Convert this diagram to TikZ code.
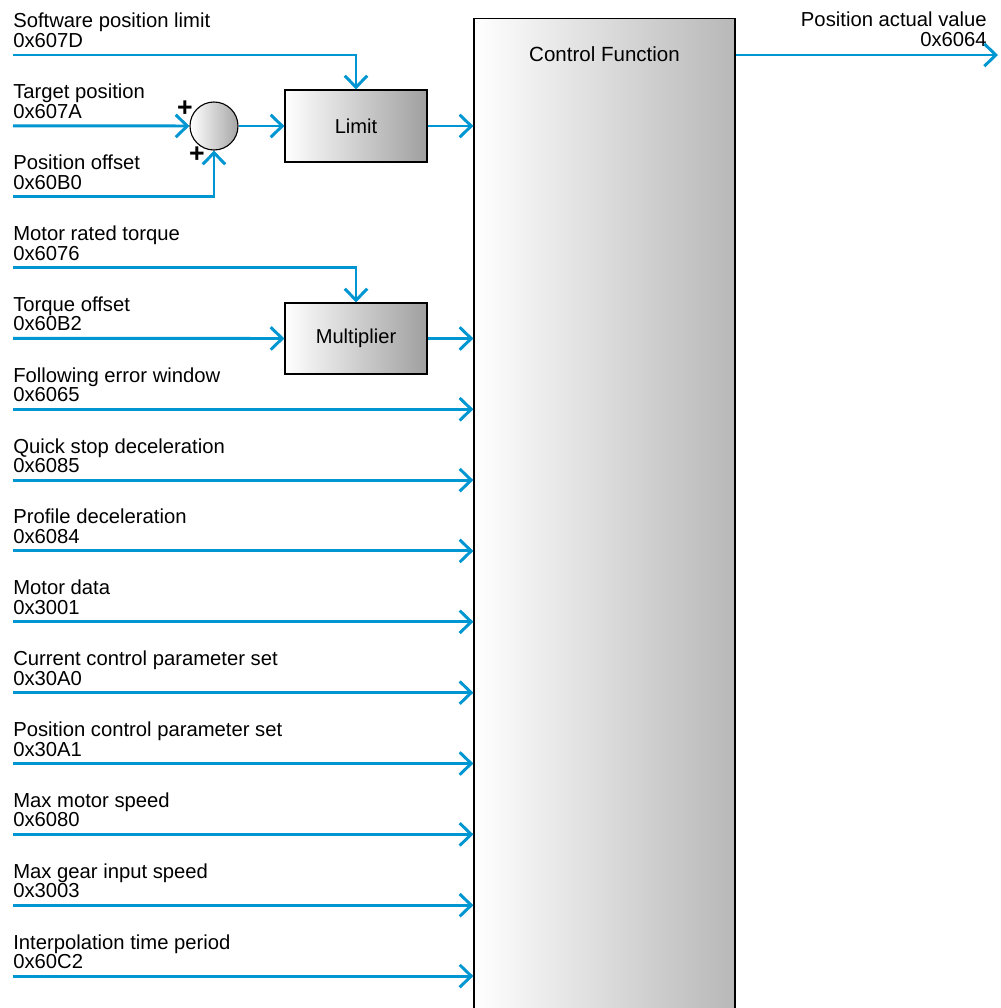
\documentclass[tikz,border=0pt]{standalone}
\usepackage{fontspec}
\setmainfont{Liberation Sans}
\usepackage{xcolor}
\usetikzlibrary{arrows.meta, positioning, shapes}

\definecolor{sigblue}{RGB}{0,150,210}

\tikzset{
	sig/.style={line width=2.1pt, sigblue, -{Straight Barb[length=0.29cm, width=0.56cm]}},
	lbl/.style={anchor=south west, inner sep=0pt, align=left, font=\fontsize{14.4}{13.9}\selectfont},
	fbox/.style={draw, line width=0.8pt, left color=white, right color=gray!75, minimum width=3.55cm, minimum height=1.8cm, font=\fontsize{14.3}{14}\selectfont},
	sumnode/.style={circle, draw, line width=0.8pt, left color=white, right color=gray!70, minimum size=1.2cm, inner sep=0pt},
	plus/.style={font=\fontsize{19}{19}\selectfont\bfseries, inner sep=0pt}
}

\begin{document}
\begin{tikzpicture}[x=0.025cm, y=-0.025cm]
			\useasboundingbox (0,0) rectangle (1001,1008);
			
			% control box
			\node[draw, line width=0.8pt, left color=white, right color=gray!56, minimum width=6.525cm, minimum height=25.3cm, inner sep=0pt] (ctrl) at (604.5,525) {};
			\node[font=\fontsize{14.6}{14}\selectfont] (ctrltxt) at (604.5,54) {Control Function};
			
			% sum, limit, multiplier
			\node[sumnode] (sum) at (214,126) {};
			\node[fbox] (lim) at (356,126) {Limit};
			\node[fbox, minimum height=1.775cm] (mul) at (356,338.5) {Multiplier};
			\node[plus] (p1) at (185,109) {+};
			\node[plus] (p2) at (197,155) {+};
			
			% line starts
			\coordinate (spl) at (13,55);
			\coordinate (tp) at (13,125.85);
			\coordinate (po) at (13,196.7);
			\coordinate (mrt) at (13,267.55);
			\coordinate (tqo) at (13,338.4);
			\coordinate (few) at (13,409.25);
			\coordinate (qsd) at (13,480.1);
			\coordinate (pd) at (13,550.95);
			\coordinate (md) at (13,621.8);
			\coordinate (ccp) at (13,692.65);
			\coordinate (pcp) at (13,763.5);
			\coordinate (mms) at (13,834.35);
			\coordinate (mgs) at (13,905.2);
			\coordinate (itp) at (13,976.05);
			\coordinate (pav) at (998,55);
			
			% labels
			\node[lbl] (spltxt) at (13,48) {Software position limit\\0x607D};
			\node[lbl] (tptxt) at (13,118.85) {Target position\\0x607A};
			\node[lbl] (potxt) at (13,189.7) {Position offset\\0x60B0};
			\node[lbl] (mrttxt) at (13,260.55) {Motor rated torque\\0x6076};
			\node[lbl] (tqotxt) at (13,331.4) {Torque offset\\0x60B2};
			\node[lbl] (fewtxt) at (13,402.25) {Following error window\\0x6065};
			\node[lbl] (qsdtxt) at (13,473.1) {Quick stop deceleration\\0x6085};
			\node[lbl] (pdtxt) at (13,543.95) {Profile deceleration\\0x6084};
			\node[lbl] (mdtxt) at (13,614.8) {Motor data\\0x3001};
			\node[lbl] (ccptxt) at (13,685.65) {Current control parameter set\\0x30A0};
			\node[lbl] (pcptxt) at (13,756.5) {Position control parameter set\\0x30A1};
			\node[lbl] (mmstxt) at (13,827.35) {Max motor speed\\0x6080};
			\node[lbl] (mgstxt) at (13,898.2) {Max gear input speed\\0x3003};
			\node[lbl] (itptxt) at (13,969.05) {Interpolation time period\\0x60C2};
			\node[lbl, anchor=south east, align=right] (pavtxt) at (987,47) {Position actual value\\0x6064};
			
			% position path
			\draw[sig] (spl) -| (lim);
			\draw[sig] (tp) -- (sum);
			\draw[sig] (po) -| (sum);
			\draw[sig] (sum) -- (lim);
			\draw[sig] (lim) -- (lim -| ctrl.west);
			
			% torque path
			\draw[sig] (mrt) -| (mul);
			\draw[sig] (tqo) -- (mul);
			\draw[sig] (mul) -- (mul -| ctrl.west);
			
			% direct inputs
			\draw[sig] (few) -- (few -| ctrl.west);
			\draw[sig] (qsd) -- (qsd -| ctrl.west);
			\draw[sig] (pd) -- (pd -| ctrl.west);
			\draw[sig] (md) -- (md -| ctrl.west);
			\draw[sig] (ccp) -- (ccp -| ctrl.west);
			\draw[sig] (pcp) -- (pcp -| ctrl.west);
			\draw[sig] (mms) -- (mms -| ctrl.west);
			\draw[sig] (mgs) -- (mgs -| ctrl.west);
			\draw[sig] (itp) -- (itp -| ctrl.west);
			
			% output
			\draw[sig] (pav -| ctrl.east) -- (pav);
		\end{tikzpicture}
\end{document}
